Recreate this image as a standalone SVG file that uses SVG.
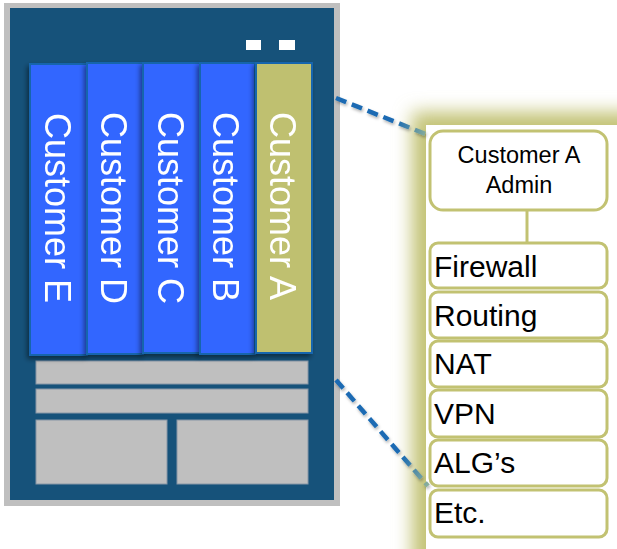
<svg xmlns="http://www.w3.org/2000/svg" width="617" height="549" viewBox="0 0 617 549">
<defs>
<filter id="glow" x="-20%" y="-20%" width="140%" height="140%"><feGaussianBlur stdDeviation="9"/></filter>
<filter id="shadow" x="-20%" y="-10%" width="140%" height="130%"><feDropShadow dx="-2" dy="3" stdDeviation="2.5" flood-color="#000" flood-opacity="0.45"/></filter>
<filter id="lshadow" x="-20%" y="-20%" width="140%" height="140%"><feDropShadow dx="1" dy="2" stdDeviation="1.5" flood-color="#000" flood-opacity="0.3"/></filter>
<linearGradient id="g1" gradientUnits="userSpaceOnUse" x1="336" y1="98" x2="428" y2="135"><stop offset="0.65" stop-color="#1A6BB3"/><stop offset="1" stop-color="#8CB09A"/></linearGradient>
<linearGradient id="g2" gradientUnits="userSpaceOnUse" x1="336" y1="380" x2="428" y2="486"><stop offset="0.72" stop-color="#1A6BB3"/><stop offset="1" stop-color="#8CB09A"/></linearGradient>
<style>
.bar{stroke:#1465AD;stroke-width:2}
.blue{fill:#3366FF}
.olive{fill:#BFC070}
.bt{font-family:"Liberation Sans",Arial,sans-serif;font-size:36px;fill:#FFFFFF}
.gray{fill:#BFBFBF;stroke:#8796A6;stroke-width:1}
.box{fill:#FFFFFF;stroke:#C2C272;stroke-width:3}
.lt{font-family:"Liberation Sans",Arial,sans-serif;font-size:30px;fill:#000000}
.at{font-family:"Liberation Sans",Arial,sans-serif;font-size:23.5px;fill:#000000;text-anchor:middle}
.dash{fill:none;stroke-width:4.5;stroke-dasharray:11 6}
</style>
</defs>
<g id="server">
<rect x="4" y="3" width="336" height="503" fill="#BFBFBF"/>
<rect x="10" y="8" width="324" height="492" fill="#16527A"/>
<rect x="246" y="40" width="15" height="10" fill="#FFFFFF"/>
<rect x="279" y="40" width="16" height="10" fill="#FFFFFF"/>
<rect class="gray" x="36" y="361" width="272" height="23"/>
<rect class="gray" x="36" y="389" width="272" height="24"/>
<rect class="gray" x="36" y="420" width="131" height="64"/>
<rect class="gray" x="177" y="420" width="131" height="64"/>
</g>
<g id="customer-e" filter="url(#shadow)"><rect class="bar blue" x="30" y="64" width="57" height="291"/><text class="bt" transform="translate(45,113) rotate(90)">Customer E</text></g>
<g id="customer-d" filter="url(#shadow)"><rect class="bar blue" x="87" y="63" width="56" height="291"/><text class="bt" transform="translate(101,112) rotate(90)">Customer D</text></g>
<g id="customer-c" filter="url(#shadow)"><rect class="bar blue" x="143" y="63" width="57" height="290"/><text class="bt" transform="translate(158,112) rotate(90)">Customer C</text></g>
<g id="customer-b" filter="url(#shadow)"><rect class="bar blue" x="200" y="63" width="55" height="291"/><text class="bt" transform="translate(213,112) rotate(90)">Customer B</text></g>
<g id="customer-a" filter="url(#shadow)"><rect class="bar olive" x="256" y="63" width="56" height="290"/><text class="bt" transform="translate(270,112) rotate(90)">Customer A</text></g>
<g id="panel">
<rect x="412" y="112" width="230" height="460" fill="#C2C274" filter="url(#glow)"/>
<rect x="426" y="125" width="200" height="430" fill="#FFFFFF"/>
</g>
<g id="connectors">
<line class="dash" x1="336" y1="98" x2="428" y2="135" stroke="url(#g1)" filter="url(#lshadow)"/>
<line class="dash" x1="336" y1="380" x2="428" y2="486" stroke="url(#g2)" filter="url(#lshadow)"/>
<line x1="527" y1="210" x2="527" y2="242" stroke="#C2C272" stroke-width="3"/>
</g>
<g id="admin"><rect class="box" x="430" y="131" width="177" height="79" rx="13"/><text class="at" x="519" y="163">Customer A</text><text class="at" x="519" y="193">Admin</text></g>
<g id="firewall"><rect class="box" x="430" y="243" width="177" height="45" rx="8"/><text class="lt" x="434" y="277">Firewall</text></g>
<g id="routing"><rect class="box" x="430" y="292" width="177" height="46" rx="8"/><text class="lt" x="434" y="326">Routing</text></g>
<g id="nat"><rect class="box" x="430" y="341" width="177" height="46" rx="8"/><text class="lt" x="434" y="374">NAT</text></g>
<g id="vpn"><rect class="box" x="430" y="390" width="177" height="47" rx="8"/><text class="lt" x="434" y="424">VPN</text></g>
<g id="algs"><rect class="box" x="430" y="440" width="177" height="46" rx="8"/><text class="lt" x="434" y="473">ALG’s</text></g>
<g id="etc"><rect class="box" x="430" y="490" width="177" height="47" rx="8"/><text class="lt" x="434" y="523">Etc.</text></g>
</svg>
